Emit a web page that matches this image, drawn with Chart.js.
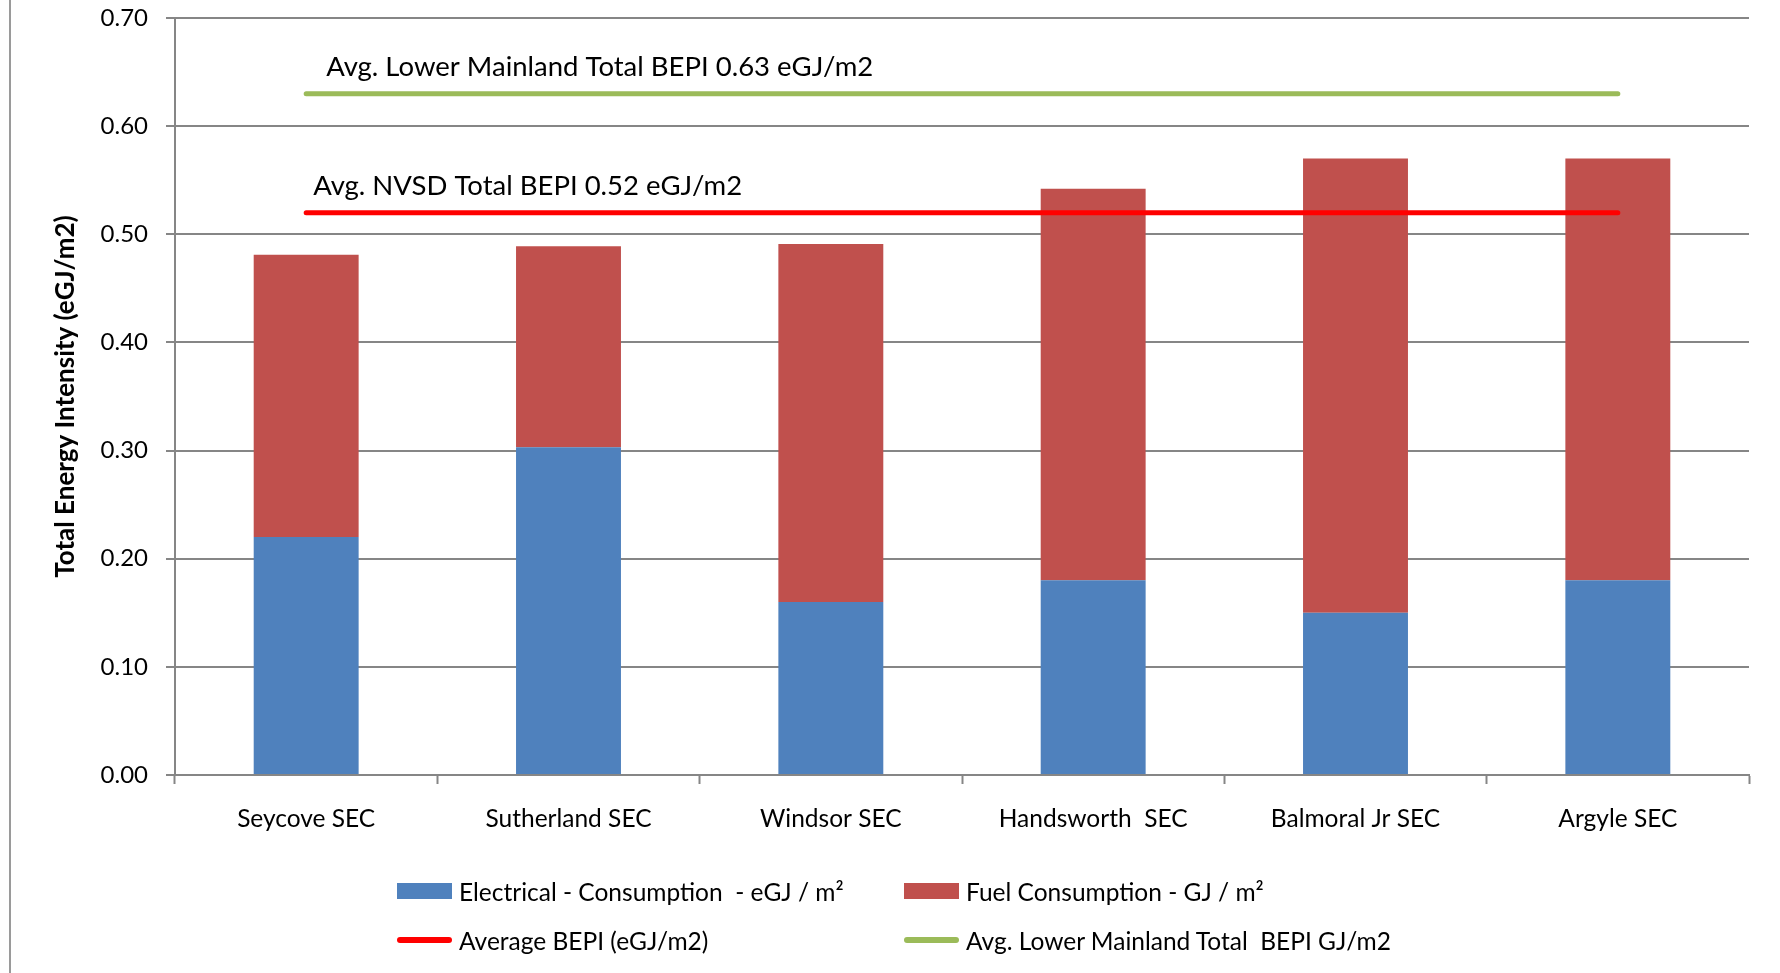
<!DOCTYPE html>
<html>
<head>
<meta charset="utf-8">
<script src="https://cdn.jsdelivr.net/npm/chart.js@4.4.1/dist/chart.umd.min.js"></script>
<style>
  html, body { margin: 0; padding: 0; background: #fff; }
  #wrap { position: relative; width: 1780px; height: 973px; }
  #legend {
    position: absolute; left: 397px; top: 876px;
    display: grid; grid-template-columns: 507px auto; row-gap: 19px;
    font-family: Lato, "Noto Sans", sans-serif; font-size: 24.5px; color: #000;
  }
  .item { display: flex; align-items: center; height: 30px; white-space: pre; }
  .sw { width: 55px; margin-right: 7px; flex: none; }
  .sw.box { height: 16px; }
  .sw.line { height: 6px; border-radius: 3px; }
</style>
</head>
<body>
<div id="wrap">
  <canvas id="chart" width="1780" height="973"></canvas>
  <div id="legend"></div>
</div>
<script>
const COLORS = {
  elec: "#4f81bd",
  fuel: "#c0504d",
  nvsd: "#ff0000",
  lower: "#9bbb59",
  grid: "#868686",
};
const FONT = "Lato, 'Noto Sans', sans-serif";

const schools = ["Seycove SEC", "Sutherland SEC", "Windsor SEC", "Handsworth  SEC", "Balmoral Jr SEC", "Argyle SEC"];
const electrical = [0.22, 0.303, 0.16, 0.18, 0.15, 0.18];
const fuel = [0.261, 0.186, 0.331, 0.362, 0.42, 0.39];
const nvsdAvg = [0.52, 0.52, 0.52, 0.52, 0.52, 0.52];
const lowerMainlandAvg = [0.63, 0.63, 0.63, 0.63, 0.63, 0.63];
const yTicks = { min: 0, max: 0.7, step: 0.1 };

const legendLabels = [
  "Electrical - Consumption  - eGJ / m²",
  "Fuel Consumption - GJ / m²",
  "Average BEPI (eGJ/m2)",
  "Avg. Lower Mainland Total  BEPI GJ/m2",
];
const lineNotes = [
  { text: "Avg. Lower Mainland Total BEPI 0.63 eGJ/m2", value: 0.63, dx: 20 },
  { text: "Avg. NVSD Total BEPI 0.52 eGJ/m2", value: 0.52, dx: 7 },
];

// grey frame line down the left edge and the text notes above the average lines
const extras = {
  id: "extras",
  afterDraw(chart) {
    const { ctx, scales: { x, y } } = chart;
    ctx.save();
    ctx.strokeStyle = "#9a9a9a";
    ctx.lineWidth = 2;
    ctx.beginPath();
    ctx.moveTo(10, 0);
    ctx.lineTo(10, chart.height);
    ctx.stroke();
    ctx.fillStyle = "#000";
    ctx.font = `27.5px ${FONT}`;
    ctx.textBaseline = "middle";
    lineNotes.forEach((n) => {
      ctx.fillText(n.text, x.getPixelForValue(0) + n.dx, y.getPixelForValue(n.value) - 27);
    });
    ctx.restore();
  },
};

const chart = new Chart(document.getElementById("chart"), {
  type: "bar",
  data: {
    labels: schools,
    datasets: [
      { label: legendLabels[0], data: electrical, backgroundColor: COLORS.elec, stack: "bars", order: 2 },
      { label: legendLabels[1], data: fuel, backgroundColor: COLORS.fuel, stack: "bars", order: 2 },
      { type: "line", label: legendLabels[2], data: nvsdAvg, borderColor: COLORS.nvsd, backgroundColor: COLORS.nvsd, stack: "nvsd", order: 0 },
      { type: "line", label: legendLabels[3], data: lowerMainlandAvg, borderColor: COLORS.lower, backgroundColor: COLORS.lower, stack: "lower", order: 1 },
    ],
  },
  options: {
    responsive: false,
    animation: false,
    layout: { padding: { left: 0, right: 31, top: 18, bottom: 0 } },
    datasets: {
      bar: { categoryPercentage: 1, barPercentage: 0.4 },
      line: { borderWidth: 5, pointRadius: 0, borderCapStyle: "round", tension: 0 },
    },
    plugins: { legend: { display: false }, tooltip: { enabled: false } },
    scales: {
      x: {
        stacked: true,
        afterFit: (s) => { s.height = 198; },
        grid: { drawOnChartArea: false, offset: true, tickLength: 9, tickColor: COLORS.grid, tickWidth: 2 },
        border: { color: COLORS.grid, width: 2 },
        ticks: { color: "#000", padding: 20, font: { family: FONT, size: 24.5 } },
      },
      y: {
        stacked: true,
        min: yTicks.min,
        max: yTicks.max,
        afterFit: (s) => {
          s.width = 175;
          s.paddingTop = 14;
          s.paddingBottom = 14;
        },
        grid: { color: COLORS.grid, lineWidth: 2, tickLength: 9 },
        border: { color: COLORS.grid, width: 2 },
        ticks: {
          stepSize: yTicks.step,
          color: "#000",
          padding: 18,
          font: { family: FONT, size: 24 },
          callback: (v) => Number(v).toFixed(2),
        },
        title: {
          display: true,
          text: "Total Energy Intensity (eGJ/m2)",
          color: "#000",
          font: { family: FONT, size: 26, weight: "bold" },
          padding: { top: 50, bottom: 0 },
        },
      },
    },
  },
  plugins: [extras],
});

document.getElementById("legend").innerHTML = chart.data.datasets
  .map((ds) => {
    const kind = ds.type === "line" ? "line" : "box";
    const col = ds.type === "line" ? ds.borderColor : ds.backgroundColor;
    return `<div class="item"><span class="sw ${kind}" style="background:${col}"></span>${ds.label}</div>`;
  })
  .join("");
</script>
</body>
</html>
